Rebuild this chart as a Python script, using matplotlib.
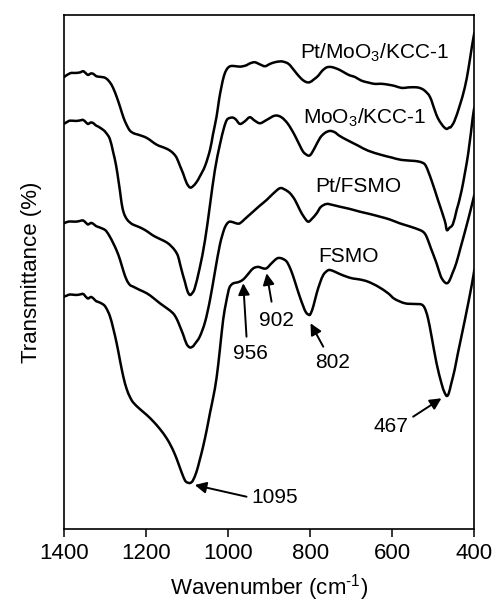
import matplotlib
matplotlib.use("Agg")
import matplotlib.pyplot as plt
from matplotlib.path import Path
from matplotlib.patches import PathPatch
import numpy as np

plt.rcParams['font.family'] = ['Liberation Sans', 'DejaVu Sans']
plt.rcParams['mathtext.fontset'] = 'custom'
plt.rcParams['mathtext.rm'] = 'Liberation Sans'
plt.rcParams['mathtext.it'] = 'Liberation Sans'
plt.rcParams['mathtext.default'] = 'regular'

# ---- data (wavenumber in cm-1, transmittance in arbitrary offset units) ----
pt_moo3_kcc_w = [1400, 1385, 1371, 1361, 1353, 1346, 1341, 1334, 1328, 1322, 1316, 1304, 1297, 1288,
                 1280, 1271, 1263, 1255, 1247, 1239, 1229, 1219, 1198, 1174, 1154, 1142, 1132, 1125,
                 1117, 1109, 1101, 1093, 1086, 1077, 1069, 1056, 1044, 1037, 1028, 1022, 1016, 1010,
                 1004, 998, 991, 981, 971, 964, 955, 947, 935, 922, 910, 898, 886, 874, 866, 854, 845,
                 835, 821, 810, 801, 791, 780, 771, 760, 750, 740, 728, 715, 703, 691, 675, 659, 642,
                 628, 610, 594, 577, 562, 545, 533, 521, 508, 496, 489, 480, 473, 467, 461, 457, 448,
                 435, 423, 414, 406, 400]
pt_moo3_kcc_t = [451.7, 455.7, 456, 456.5, 457.7, 455.5, 454, 455.5, 455, 453, 452.3, 451.7, 450.5, 446.7,
                 441, 431.7, 422, 411.7, 404, 398.3, 395.5, 394.3, 391, 384.3, 381, 378.5, 375, 371,
                 363, 355, 346, 341.5, 342.5, 346.7, 352.3, 363, 379, 394, 412.3, 429, 442.3, 453,
                 459, 462, 463, 462.7, 462.3, 462.7, 463.7, 465.5, 466.7, 464.5, 462.7, 465, 466.7, 467.5,
                 467.3, 465.5, 461.7, 456.5, 450, 447, 446.7, 449.5, 453.3, 458, 461.5, 462, 461, 459,
                 456, 453.5, 452, 448.3, 446.5, 445, 445.2, 444.3, 443, 441, 441.5, 441.7, 441, 438.3,
                 432, 418.3, 411, 405, 401.5, 400, 401.5, 402, 408.3, 424, 441.7, 461, 482, 496]

moo3_kcc_w = [1400, 1392, 1385, 1371, 1361, 1353, 1346, 1341, 1334, 1328, 1322, 1316, 1304, 1297, 1288,
              1280, 1273, 1267, 1263, 1259, 1254, 1247, 1239, 1231, 1220, 1207, 1195, 1182, 1166, 1150,
              1139, 1129, 1122, 1117, 1110, 1105, 1099, 1093, 1087, 1081, 1069, 1056, 1044, 1032, 1020,
              1010, 1003, 996, 988, 981, 971, 959, 947, 935, 922, 906, 886, 870, 854, 837, 821, 813,
              801, 789, 776, 764, 752, 740, 728, 707, 683, 659, 626, 602, 577, 545, 528, 518, 504, 488,
              472, 467, 461, 452, 443, 431, 415, 404, 400]
moo3_kcc_t = [405, 407, 408.3, 408, 408.5, 409, 406.5, 405, 406.5, 405.7, 403.5, 402.3, 399, 396, 390,
              377, 364, 348.3, 337, 325, 316, 310, 306.5, 304.3, 302.5, 300, 297, 293.3, 290, 286.7,
              283, 278.3, 273, 265, 254, 247, 238, 234, 236, 241, 261, 289, 324, 359, 384,
              401, 409, 411, 411.3, 409.5, 405, 407.7, 411.7, 408.3, 405.7, 409, 413.3, 411.7, 405, 393.3,
              380, 375.5, 373.5, 381, 391, 396, 398, 396.7, 393, 388.3, 383.3, 378.3, 374, 371.5, 369,
              368, 366.5, 363, 348.3, 328.3, 308.3, 299, 301, 305, 319, 338.3, 375, 411, 421]

pt_fsmo_w = [1400, 1392, 1385, 1371, 1361, 1353, 1346, 1341, 1334, 1328, 1322, 1316, 1304, 1297, 1288,
             1280, 1271, 1263, 1255, 1247, 1239, 1231, 1215, 1198, 1182, 1166, 1150, 1134, 1125, 1117,
             1109, 1101, 1093, 1086, 1081, 1069, 1056, 1044, 1032, 1020, 1010, 1003, 996, 986, 979,
             971, 959, 939, 922, 906, 891, 874, 862, 849, 837, 825, 815, 805, 796, 784, 774, 760, 745,
             728, 703, 679, 655, 630, 606, 582, 557, 533, 523, 516, 506, 492, 482, 474, 467, 461,
             453, 444, 433, 423, 411, 400]
pt_fsmo_t = [305.7, 307, 307.5, 307.3, 308, 308.5, 306, 304.5, 306, 305, 303, 302, 300, 298, 292.3,
             286, 278, 269, 258, 249, 244, 242.3, 239, 235.7, 231, 225.7, 221, 215.7, 210, 202.3,
             194, 185, 181.5, 182.5, 185, 192.3, 207, 229, 257, 284, 299, 305, 307.3, 306.5, 305.5,
             305.7, 310, 317.3, 323.5, 329, 335, 340.7, 339.5, 335.7, 329, 319, 312, 307.3, 310, 315.7,
             322, 325, 324, 322.3, 320, 317.3, 315, 312.3, 309.5, 305.7, 302.5, 299, 296.5, 292, 281,
             265.7, 253, 247.5, 245.7, 248, 256, 265.7, 282, 297, 315.7, 334]

fsmo_w = [1400, 1392, 1385, 1371, 1361, 1353, 1346, 1341, 1334, 1328, 1322, 1316, 1304, 1297, 1288,
          1280, 1271, 1263, 1255, 1247, 1239, 1231, 1215, 1198, 1182, 1166, 1150, 1139, 1132, 1125,
          1117, 1109, 1103, 1095, 1090, 1085, 1077, 1069, 1061, 1052, 1044, 1036, 1028, 1020, 1012,
          1005, 1000, 996, 988, 978, 971, 963, 955, 947, 939, 930, 922, 914, 906, 898, 890, 881,
          874, 866, 857, 849, 841, 833, 825, 817, 810, 802, 798, 792, 784, 776, 768, 759, 752, 740,
          728, 711, 696, 679, 659, 634, 610, 594, 569, 545, 529, 521, 513, 504, 492, 480, 473, 467,
          462, 456, 448, 440, 423, 407, 400]
fsmo_t = [232.3, 233.5, 234.5, 234, 234.5, 235, 232, 230.5, 232, 230.5, 228, 227, 224.5, 221, 213,
          201, 185, 168, 152, 140, 132, 126.5, 120, 114, 107.5, 100, 91, 83, 77, 70,
          61, 52.3, 47.5, 46, 46.5, 49, 57, 69, 82, 99, 116, 132, 151, 179, 209,
          226, 236, 242, 245.5, 246.5, 247.5, 249.5, 253, 257, 260.5, 262, 261.7, 260.5, 260.7, 264, 267.3, 270.5,
          271, 270, 267.3, 261, 252.3, 242, 232, 223, 216.5, 214, 216, 223, 235.7, 246, 254, 258, 259, 257.3,
          255, 252.3, 250.5, 249.5, 247.3, 242.3, 235.7, 230, 225.7, 225, 224.5, 221, 211, 192.3, 165.7, 145.7, 137, 133,
          136, 145.7, 159, 175.7, 209, 242.3, 259]

curve_labels = ['Pt/MoO$_3$/KCC-1', 'MoO$_3$/KCC-1', 'Pt/FSMO', 'FSMO']
label_w = [642, 667, 683, 707]
label_t = [475.7, 410.7, 342.3, 272.3]

peak_labels = ['956', '902', '802', '1095', '467']
peak_tip_w = [963, 906, 799, 1081, 480]
peak_tip_t = [245.7, 255.7, 205.7, 44, 130.7]
peak_tail_w = [955, 894, 768, 955, 549]
peak_tail_t = [192.3, 227.3, 182.3, 32.3, 112.3]
peak_text_w = [945, 883, 746, 886, 602]
peak_text_t = [175, 208, 166, 31.7, 102.3]

xticks = [1400, 1200, 1000, 800, 600, 400]


def smooth_path(xs, ys):
    """Catmull-Rom spline through the measured points, drawn as cubic Bezier segments."""
    p = np.column_stack([xs, ys]).astype(float)
    n = len(p)
    verts = [p[0]]
    codes = [Path.MOVETO]
    for i in range(n - 1):
        p0 = p[i - 1] if i > 0 else p[i]
        p1 = p[i]
        p2 = p[i + 1]
        p3 = p[i + 2] if i + 2 < n else p[i + 1]
        c1 = p1 + (p2 - p0) / 6.0
        c2 = p2 - (p3 - p1) / 6.0
        verts += [c1, c2, p2]
        codes += [Path.CURVE4] * 3
    return Path(verts, codes)


# ---- figure ----
fig = plt.figure(figsize=(4.99, 6.12), dpi=100)
ax = fig.add_axes([0.128, 0.1356, 0.8225, 0.84])

for w, t in [(pt_moo3_kcc_w, pt_moo3_kcc_t), (moo3_kcc_w, moo3_kcc_t),
             (pt_fsmo_w, pt_fsmo_t), (fsmo_w, fsmo_t)]:
    ax.add_patch(PathPatch(smooth_path(w, t), facecolor='none', edgecolor='black',
                           lw=1.8, joinstyle='round', capstyle='round'))

for lab, x, y in zip(curve_labels, label_w, label_t):
    ax.text(x, y, lab, fontsize=15, ha='center', va='center')

for lab, tw, tt, aw, at, xw, xt in zip(peak_labels, peak_tip_w, peak_tip_t, peak_tail_w,
                                       peak_tail_t, peak_text_w, peak_text_t):
    ax.annotate('', xy=(tw, tt), xytext=(aw, at),
                arrowprops=dict(arrowstyle='-|>', color='black', lw=1.4,
                                mutation_scale=17, shrinkA=0, shrinkB=0))
    ax.text(xw, xt, lab, fontsize=15, ha='center', va='center')

ax.set_xlim(1400, 400)
ax.set_ylim(0, 514)
ax.set_xticks(xticks)
ax.set_xticklabels([str(v) for v in xticks])
ax.set_yticks([])
ax.tick_params(axis='x', direction='out', length=6, width=1.1, labelsize=16, pad=4)
for s in ax.spines.values():
    s.set_linewidth(1.2)
ax.set_xlabel('Wavenumber (cm$^{\u2010' + '1}$)', fontsize=16, labelpad=6)
ax.set_ylabel('Transmittance (%)', fontsize=16, labelpad=16)

fig.savefig('out.png', dpi=100)
